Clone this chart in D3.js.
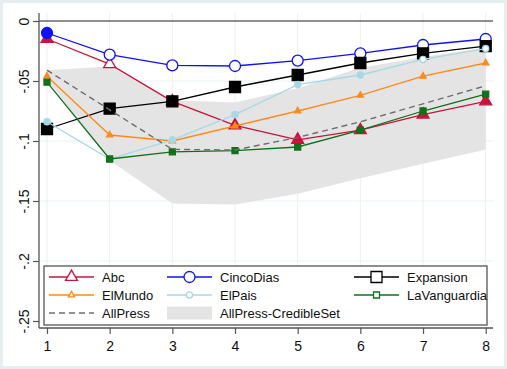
<!DOCTYPE html>
<html><head><meta charset="utf-8">
<script src="https://cdn.jsdelivr.net/npm/d3@7"></script>
<style>
html,body{margin:0;padding:0;background:#fff;}
svg{display:block;font-family:"Liberation Sans",Arial,sans-serif;}
</style></head>
<body><svg id="chart" width="507" height="369"></svg>
<script>
// ---- data ----
const periods = [1, 2, 3, 4, 5, 6, 7, 8];
const abc          = [-0.015, -0.036, -0.067, -0.087, -0.099, -0.091, -0.078, -0.067];
const cincoDias    = [-0.010, -0.028, -0.037, -0.0375, -0.033, -0.027, -0.020, -0.015];
const expansion    = [-0.090, -0.073, -0.067, -0.055, -0.045, -0.035, -0.027, -0.021];
const elMundo      = [-0.046, -0.095, -0.100, -0.0875, -0.075, -0.062, -0.046, -0.035];
const elPais       = [-0.084, -0.115, -0.099, -0.078, -0.053, -0.045, -0.032, -0.023];
const laVanguardia = [-0.051, -0.115, -0.109, -0.108, -0.105, -0.091, -0.075, -0.061];
const allPress     = [-0.041, -0.074, -0.107, -0.1075, -0.097, -0.084, -0.069, -0.054];
const credUpper    = [-0.041, -0.038, -0.066, -0.068, -0.056, -0.039, -0.030, -0.022];
const credLower    = [-0.049, -0.116, -0.152, -0.153, -0.144, -0.131, -0.119, -0.107];
// solid (1) vs hollow (0) markers as seen in the picture
const abcSolid   = [1, 0, 1, 1, 1, 1, 1, 1];
const cincoSolid = [1, 0, 0, 0, 0, 0, 0, 0];
const expSolid   = [1, 1, 1, 1, 1, 1, 1, 1];
const mundoSolid = [1, 1, 1, 1, 1, 1, 1, 1];
const paisSolid  = [1, 1, 1, 1, 1, 1, 0, 0];
const vangSolid  = [1, 1, 1, 1, 1, 1, 1, 1];
const yTickValues = [0, -0.05, -0.1, -0.15, -0.2, -0.25];
const yTickLabels = ["0", "-.05", "-.1", "-.15", "-.2", "-.25"];
const xTickLabels = ["1", "2", "3", "4", "5", "6", "7", "8"];
const seriesNames = ["Abc", "CincoDias", "Expansion", "ElMundo", "ElPais", "LaVanguardia", "AllPress", "AllPress-CredibleSet"];

(function () {
// ---- styles ----
const series = [
  {name: seriesNames[0], vals: abc, solid: abcSolid, color: "#c8143c", sym: d3.symbolTriangle, size: 62},
  {name: seriesNames[1], vals: cincoDias, solid: cincoSolid, color: "#1010ff", sym: d3.symbolCircle, size: 95},
  {name: seriesNames[2], vals: expansion, solid: expSolid, color: "#000000", sym: d3.symbolSquare, size: 121},
  {name: seriesNames[3], vals: elMundo, solid: mundoSolid, color: "#ff8a1c", sym: d3.symbolTriangle, size: 17},
  {name: seriesNames[4], vals: elPais, solid: paisSolid, color: "#a8d8e6", sym: d3.symbolCircle, size: 30},
  {name: seriesNames[5], vals: laVanguardia, solid: vangSolid, color: "#12701a", sym: d3.symbolSquare, size: 36}
];

const svg = d3.select("#chart");
svg.append("rect").attr("x", 1.5).attr("y", 1.5).attr("width", 504).attr("height", 366)
  .attr("fill", "#fff").attr("stroke", "#e6eef0").attr("stroke-width", 3);

const x = d3.scaleLinear().domain([1, 8]).range([47, 485.7]);
const y = d3.scaleLinear().domain([0, -0.25]).range([21, 321]);
const pLeft = 39, pRight = 493, pTop = 13, pBottom = 328;

const g = svg.append("g");
g.selectAll(".vg").data(periods).join("line")
  .attr("x1", d => x(d)).attr("x2", d => x(d)).attr("y1", pTop).attr("y2", pBottom)
  .attr("stroke", "#e8f1f2").attr("stroke-width", 1);
g.selectAll(".hg").data(yTickValues.slice(1)).join("line")
  .attr("x1", pLeft).attr("x2", pRight).attr("y1", d => y(d)).attr("y2", d => y(d))
  .attr("stroke", "#e8f1f2").attr("stroke-width", 1);

const area = d3.area().x((d, i) => x(periods[i])).y0((d, i) => y(credLower[i])).y1(d => y(d));
g.append("path").datum(credUpper).attr("d", area).attr("fill", "#e4e4e4");

g.append("line").attr("x1", pLeft).attr("x2", pRight).attr("y1", y(0)).attr("y2", y(0))
  .attr("stroke", "#222").attr("stroke-width", 1.2);

const line = d3.line().x((d, i) => x(periods[i])).y(d => y(d));

series.forEach(s => {
  g.append("path").datum(s.vals).attr("d", line).attr("fill", "none")
    .attr("stroke", s.color).attr("stroke-width", 1.3);
  const sym = d3.symbol().type(s.sym).size(s.size);
  g.selectAll(null).data(s.vals).join("path")
    .attr("transform", (d, i) => `translate(${x(periods[i])},${y(d)})`)
    .attr("d", sym)
    .attr("fill", (d, i) => s.solid[i] ? s.color : "#fff")
    .attr("stroke", s.color).attr("stroke-width", 1.3);
});

g.append("path").datum(allPress).attr("d", line).attr("fill", "none")
  .attr("stroke", "#6e6e6e").attr("stroke-width", 1.4).attr("stroke-dasharray", "6,4");

const yAxis = d3.axisLeft(y).tickValues(yTickValues).tickSize(6).tickPadding(4)
  .tickFormat((d, i) => yTickLabels[i]);
const ya = svg.append("g").attr("transform", `translate(${pLeft},0)`).call(yAxis);
ya.select(".domain").remove();
ya.append("line").attr("x1", 0).attr("x2", 0).attr("y1", pTop).attr("y2", pBottom)
  .attr("stroke", "#555").attr("stroke-width", 1.3);
ya.selectAll(".tick line").attr("stroke", "#555").attr("stroke-width", 1.2);
ya.selectAll(".tick text")
  .attr("x", null).attr("dy", null)
  .attr("text-anchor", "middle")
  .attr("transform", "translate(-10,0) rotate(-90)")
  .attr("font-size", 14).attr("fill", "#111");

const xAxis = d3.axisBottom(x).tickValues(periods).tickSize(6).tickPadding(5)
  .tickFormat((d, i) => xTickLabels[i]);
const xa = svg.append("g").attr("transform", `translate(0,${pBottom})`).call(xAxis);
xa.select(".domain").remove();
xa.append("line").attr("x1", pLeft).attr("x2", pRight).attr("y1", 0).attr("y2", 0)
  .attr("stroke", "#555").attr("stroke-width", 1.3);
xa.selectAll(".tick line").attr("stroke", "#555").attr("stroke-width", 1.2);
xa.selectAll(".tick text").attr("dy", null).attr("y", 23).attr("font-size", 14).attr("fill", "#111");

const lg = svg.append("g");
lg.append("rect").attr("x", 44).attr("y", 266).attr("width", 443).attr("height", 59)
  .attr("fill", "#fff").attr("stroke", "#555").attr("stroke-width", 1.3);
const colX = [49, 167, 354];
const rowY = [277, 295, 313];
series.forEach((s, i) => {
  const x0 = colX[i % 3], yy = rowY[Math.floor(i / 3)];
  lg.append("line").attr("x1", x0).attr("x2", x0 + 45).attr("y1", yy).attr("y2", yy)
    .attr("stroke", s.color).attr("stroke-width", 1.3);
  lg.append("path").attr("transform", `translate(${x0 + 22.5},${yy})`)
    .attr("d", d3.symbol().type(s.sym).size(s.size))
    .attr("fill", "#fff").attr("stroke", s.color).attr("stroke-width", 1.3);
  lg.append("text").attr("x", x0 + 53).attr("y", yy + 4.5).attr("font-size", 13)
    .attr("fill", "#111").text(s.name);
});
lg.append("line").attr("x1", colX[0]).attr("x2", colX[0] + 45).attr("y1", rowY[2]).attr("y2", rowY[2])
  .attr("stroke", "#6e6e6e").attr("stroke-width", 1.4).attr("stroke-dasharray", "6,4");
lg.append("text").attr("x", colX[0] + 53).attr("y", rowY[2] + 4.5).attr("font-size", 13)
  .attr("fill", "#111").text(seriesNames[6]);
lg.append("rect").attr("x", colX[1]).attr("y", rowY[2] - 6.5).attr("width", 45).attr("height", 13)
  .attr("fill", "#e4e4e4");
lg.append("text").attr("x", colX[1] + 53).attr("y", rowY[2] + 4.5).attr("font-size", 13)
  .attr("fill", "#111").text(seriesNames[7]);
})();
</script></body></html>
